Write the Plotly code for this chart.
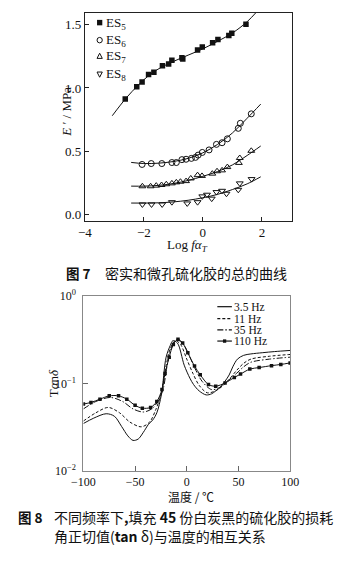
import plotly.graph_objects as go

W, H = 348, 574

# ---------------- Fig. 7: master curves E' vs log(f*aT) ----------------
es5_x = [-2.63, -2.24, -2.06, -1.84, -1.66, -1.37, -1.16, -1.05, -0.71, -0.68,
         -0.18, -0.02, 0.33, 0.51, 0.88, 0.98, 1.46]
es5_y = [0.913, 1.01, 1.047, 1.106, 1.124, 1.175, 1.19, 1.22, 1.24, 1.23,
         1.30, 1.325, 1.358, 1.384, 1.415, 1.433, 1.505]

es6_x = [-2.06, -1.75, -1.39, -1.05, -0.90, -0.71, -0.57, -0.39, -0.25, -0.16,
         -0.02, 0.21, 0.46, 0.65, 0.83, 1.20, 1.27, 1.64]
es6_y = [0.394, 0.401, 0.401, 0.409, 0.409, 0.432, 0.435, 0.442, 0.45, 0.468,
         0.489, 0.509, 0.553, 0.566, 0.597, 0.68, 0.72, 0.795]

es7_x = [-2.05, -1.77, -1.58, -1.40, -1.24, -1.05, -0.90, -0.76, -0.57, -0.41,
         -0.18, -0.03, 0.32, 0.48, 0.65, 0.83, 1.22, 1.25, 1.64]
es7_y = [0.221, 0.221, 0.226, 0.231, 0.237, 0.244, 0.252, 0.257, 0.262, 0.283,
         0.309, 0.303, 0.321, 0.340, 0.347, 0.373, 0.406, 0.445, 0.502]

es8_x = [-2.05, -1.74, -1.38, -1.05, -0.53, -0.18, -0.02, 0.14, 0.30, 0.46,
         0.65, 0.80, 1.20, 1.25, 1.65]
es8_y = [0.077, 0.077, 0.077, 0.095, 0.085, 0.095, 0.141, 0.154, 0.123, 0.175,
         0.185, 0.162, 0.193, 0.244, 0.278]

# fitted master curves
fit5_x = [-3.07, -2.6, -2.2, -1.8, -1.4, -1.0, -0.5, 0.0, 0.5, 1.0, 1.5, 1.85]
fit5_y = [0.78, 0.92, 1.02, 1.105, 1.165, 1.21, 1.26, 1.31, 1.37, 1.435, 1.525, 1.61]
fit_x = [-2.43, -2.0, -1.5, -1.0, -0.5, 0.0, 0.5, 1.0, 1.5, 1.96]
fit6_y = [0.41, 0.401, 0.404, 0.417, 0.442, 0.486, 0.553, 0.643, 0.76, 0.872]
fit7_y = [0.222, 0.222, 0.228, 0.243, 0.267, 0.30, 0.338, 0.39, 0.465, 0.54]
fit8_y = [0.088, 0.088, 0.09, 0.097, 0.11, 0.13, 0.157, 0.195, 0.24, 0.296]

# ---------------- Fig. 8: tan(delta) vs temperature ----------------
t_35 = [-100, -90, -78, -70, -63, -57, -52, -47, -42, -37, -33, -29, -24.5, -20,
        -16, -13.5, -9, -2.5, 3, 6.6, 12, 18.8, 24, 28, 33, 37, 41, 44.5, 49, 55,
        62, 73, 85, 100]
tan_35 = [0.0347, 0.040, 0.0449, 0.042, 0.032, 0.025, 0.0222, 0.023, 0.0275, 0.034,
          0.038, 0.046, 0.075, 0.20, 0.272, 0.309, 0.29, 0.162, 0.115, 0.097, 0.082,
          0.0738, 0.076, 0.082, 0.092, 0.106, 0.125, 0.155, 0.19, 0.21, 0.218,
          0.225, 0.232, 0.239]

t_11 = [-100, -88, -76, -65, -55, -44, -36, -30, -25, -20, -16, -11, -6, 0, 6,
        12, 20, 30, 40, 48, 55, 62, 80, 100]
tan_11 = [0.037, 0.046, 0.053, 0.046, 0.036, 0.0318, 0.036, 0.05, 0.075, 0.16,
          0.25, 0.31, 0.28, 0.19, 0.13, 0.095, 0.078, 0.085, 0.108, 0.14, 0.17,
          0.19, 0.205, 0.215]

t_35hz = [-100, -88, -74, -62, -52, -42, -34, -28, -23, -19, -15, -10, -4, 3, 9,
          15, 24, 32, 40, 48, 55, 62, 80, 100]
tan_35hz = [0.051, 0.062, 0.069, 0.062, 0.051, 0.047, 0.051, 0.062, 0.085, 0.16,
            0.25, 0.315, 0.29, 0.20, 0.14, 0.105, 0.085, 0.09, 0.108, 0.13, 0.155,
            0.175, 0.19, 0.20]

t_110 = [-100, -92.7, -84, -75, -66, -58, -50, -43, -35, -29, -24, -21, -17, -13,
         -8.5, -4, 1, 7.5, 13, 21, 28, 37, 46, 52, 61, 70, 82, 91, 100]
tan_110 = [0.058, 0.0605, 0.066, 0.072, 0.072, 0.066, 0.056, 0.052, 0.053, 0.062,
           0.085, 0.13, 0.20, 0.28, 0.322, 0.29, 0.225, 0.158, 0.126, 0.097, 0.093,
           0.101, 0.117, 0.128, 0.146, 0.152, 0.16, 0.165, 0.172]

freq_labels = ["3.5 Hz", "11 Hz", "35 Hz", "110 Hz"]
es_labels = ["ES<sub>5</sub>", "ES<sub>6</sub>", "ES<sub>7</sub>", "ES<sub>8</sub>"]

SERIF = "Liberation Serif"
CJK = "Noto Sans CJK SC"
INK = "#111111"


def px(x):
    return x / W


def py(y):
    return 1 - y / H


fig = go.Figure()

# ---- top panel
marker_styles = [
    dict(symbol="square", size=5.5, color=INK),
    dict(symbol="circle-open", size=6, color=INK, line=dict(width=1, color=INK)),
    dict(symbol="triangle-up-open", size=6, color=INK, line=dict(width=1, color=INK)),
    dict(symbol="triangle-down-open", size=6, color=INK, line=dict(width=1, color=INK)),
]
for fx, fy in [(fit5_x, fit5_y), (fit_x, fit6_y), (fit_x, fit7_y), (fit_x, fit8_y)]:
    fig.add_trace(go.Scatter(x=fx, y=fy, mode="lines", line=dict(color=INK, width=1, shape="spline"),
                             showlegend=False, xaxis="x", yaxis="y", hoverinfo="skip"))
for (mx, my), ms, name in zip([(es5_x, es5_y), (es6_x, es6_y), (es7_x, es7_y), (es8_x, es8_y)],
                              marker_styles, es_labels):
    fig.add_trace(go.Scatter(x=mx, y=my, mode="markers", marker=ms, name=name,
                             showlegend=False, xaxis="x", yaxis="y"))

# ---- bottom panel
dash_styles = ["solid", "3px,2px", "6px,2px,1.5px,2px", "solid"]
for tx, ty, dsh, name in zip([t_35, t_11, t_35hz, t_110], [tan_35, tan_11, tan_35hz, tan_110],
                             dash_styles, freq_labels):
    with_markers = name == "110 Hz"
    fig.add_trace(go.Scatter(
        x=tx, y=ty, name=name, mode="lines+markers" if with_markers else "lines",
        line=dict(color=INK, width=1, dash=dsh, shape="spline", smoothing=0.9),
        marker=dict(symbol="square", size=3.5, color=INK),
        showlegend=False, xaxis="x2", yaxis="y2"))

axis_common = dict(showgrid=False, zeroline=False, showline=True, mirror=True, ticks="inside")

fig.update_layout(
    width=W, height=H, margin=dict(l=0, r=0, t=0, b=0),
    paper_bgcolor="white", plot_bgcolor="white", showlegend=False,
    xaxis=dict(axis_common, domain=[px(77.5), px(298.3)], range=[-4, 3.03],
               tickvals=[-4, -2, 0, 2], ticklen=4, linecolor="#222", linewidth=1,
               tickcolor="#222", tickfont=dict(family=SERIF, size=13, color=INK), anchor="y"),
    yaxis=dict(axis_common, domain=[py(218.3), py(5)], range=[-0.051, 1.595],
               tickvals=[0, 0.5, 1.0, 1.5], ticktext=["0.0", "0.5", "1.0", "1.5"], ticklen=4,
               linecolor="#222", linewidth=1, tickcolor="#222",
               tickfont=dict(family=SERIF, size=13, color=INK), anchor="x"),
    xaxis2=dict(axis_common, domain=[px(76), px(296)], range=[-100, 100],
                tickvals=[-100, -50, 0, 50, 100], ticktext=["\u2212100", "\u221250", "0", "50", "100"],
                ticklen=5, linecolor="#888", linewidth=1, tickcolor="#666",
                tickfont=dict(family=SERIF, size=12, color=INK), anchor="y2"),
    yaxis2=dict(axis_common, type="log", domain=[py(475), py(296)], range=[-2, 0],
                tickvals=[0.01, 0.1, 1], ticktext=["10<sup>\u22122</sup>", "10<sup>\u22121</sup>", "10<sup>0</sup>"],
                ticklen=5, linecolor="#888", linewidth=1, tickcolor="#666", ticklabelstandoff=4,
                tickfont=dict(family=SERIF, size=12, color=INK), anchor="x2"),
)

ann = []
shapes = []


def text(x, y, s, size=13, family=SERIF, xanchor="center", angle=0):
    ann.append(dict(x=px(x), y=py(y), xref="paper", yref="paper", text=s, showarrow=False,
                    xanchor=xanchor, yanchor="middle", textangle=angle,
                    font=dict(family=family, size=size, color=INK)))


# axis titles
text(58, 107, "<i>E</i> \u2032 / MPa", size=13, angle=-90)
text(187, 243.5, "Log <i>f\u03b1</i><sub><i>T</i></sub>", size=13)
text(190, 502, "温度 / ℃", size=12, family=CJK)
text(45, 385, "T<i>\u03b1</i>n<i>\u03b4</i>", size=13, angle=-90)

# legend of the top panel
leg_y = [15, 33, 49.5, 68]
mx = 93.3
r = 2.8
shapes.append(dict(type="rect", xref="paper", yref="paper", x0=px(mx - r), x1=px(mx + r),
                   y0=py(leg_y[0] + r), y1=py(leg_y[0] - r), fillcolor=INK, line=dict(width=0)))
shapes.append(dict(type="circle", xref="paper", yref="paper", x0=px(mx - r), x1=px(mx + r),
                   y0=py(leg_y[1] + r), y1=py(leg_y[1] - r), line=dict(width=1, color=INK)))
yy = leg_y[2]
shapes.append(dict(type="path", xref="paper", yref="paper",
                   path=f"M{px(mx - r)},{py(yy + r * 0.8)} L{px(mx + r)},{py(yy + r * 0.8)} L{px(mx)},{py(yy - r * 1.1)} Z",
                   line=dict(width=1, color=INK)))
yy = leg_y[3]
shapes.append(dict(type="path", xref="paper", yref="paper",
                   path=f"M{px(mx - r)},{py(yy - r * 0.8)} L{px(mx + r)},{py(yy - r * 0.8)} L{px(mx)},{py(yy + r * 1.1)} Z",
                   line=dict(width=1, color=INK)))
for yy, lab in zip(leg_y, es_labels):
    text(97.5, yy + 0.5, lab, size=13, xanchor="left")

# legend of the bottom panel
leg2_y = [306.7, 319, 330.5, 342]
for yy, dsh, lab in zip(leg2_y, dash_styles, freq_labels):
    shapes.append(dict(type="line", xref="paper", yref="paper", x0=px(218.5), x1=px(234),
                       y0=py(yy), y1=py(yy), line=dict(color=INK, width=1.2, dash=dsh)))
    text(234.5, yy, lab, size=11.5, xanchor="left")
shapes.append(dict(type="rect", xref="paper", yref="paper", x0=px(224.5), x1=px(228),
                   y0=py(leg2_y[3] + 1.75), y1=py(leg2_y[3] - 1.75), fillcolor=INK, line=dict(width=0)))

# captions
text(55, 272, "<b>图 7</b>", size=13.5, family=CJK, xanchor="left")
text(97, 272, "密实和微孔硫化胶的总的曲线", size=14, family=CJK, xanchor="left")
text(4, 523, "<b>图 8</b>", size=13.5, family=CJK, xanchor="left")
text(43, 523, "不同频率下<b>,</b>填充 <b>45</b> 份白炭黑的硫化胶的损耗", size=14, family=CJK, xanchor="left")
text(43, 542.5, "角正切值(<b>tan</b> δ)与温度的相互关系", size=14, family=CJK, xanchor="left")

fig.update_layout(annotations=ann, shapes=shapes)

fig.write_html("out.html")
